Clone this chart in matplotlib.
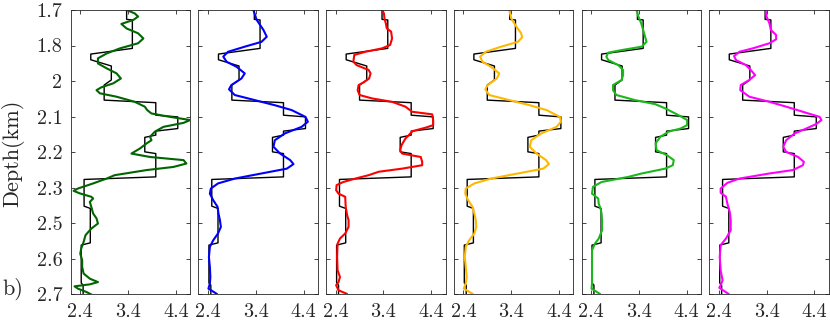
import numpy as np
import matplotlib
matplotlib.use('Agg')
import matplotlib.pyplot as plt

plt.rcParams['font.family'] = ['cmr10', 'DejaVu Serif']
plt.rcParams['mathtext.fontset'] = 'cm'
plt.rcParams['axes.unicode_minus'] = False

# true (blocky) model, shared by all panels
model_depth = [1.700, 1.733, 1.735, 1.835, 1.855, 1.875, 1.897, 1.946, 1.964, 2.017,
               2.026, 2.070, 2.076, 2.117, 2.126, 2.140, 2.148, 2.199, 2.205, 2.287,
               2.296, 2.390, 2.398, 2.519, 2.527, 2.660, 2.668, 2.700]
model_vel = [3.37, 3.37, 3.49, 3.49, 2.62, 2.62, 3.05, 3.05, 2.90, 2.90,
             3.98, 3.98, 4.44, 4.44, 3.98, 3.98, 3.75, 3.75, 3.98, 3.98,
             2.48, 2.48, 2.61, 2.61, 2.42, 2.42, 2.46, 2.46]

# panel 1 (dark green)
d1 = [1.700, 1.712, 1.723, 1.735, 1.749, 1.765, 1.782, 1.800, 1.817, 1.835, 1.853, 1.870,
      1.888, 1.905, 1.923, 1.941, 1.958, 1.972, 1.982, 1.993, 2.005, 2.023, 2.040, 2.052,
      2.064, 2.076, 2.087, 2.097, 2.111, 2.128, 2.146, 2.158, 2.169, 2.187, 2.205, 2.217,
      2.228, 2.240, 2.252, 2.263, 2.281, 2.293, 2.310, 2.328, 2.336, 2.345, 2.357, 2.363,
      2.375, 2.392, 2.416, 2.433, 2.451, 2.469, 2.492, 2.516, 2.539, 2.557, 2.580, 2.604,
      2.627, 2.645, 2.657, 2.665, 2.672, 2.680, 2.692, 2.704]
v1 = [3.37, 3.54, 3.61, 3.51, 3.26, 3.37, 3.61, 3.72, 3.61, 3.23, 2.95, 2.77,
      2.77, 2.95, 3.16, 3.25, 3.09, 2.84, 2.74, 2.81, 3.16, 3.54, 3.75, 3.80,
      3.89, 4.28, 4.70, 4.56, 4.14, 3.96, 3.86, 3.89, 3.79, 3.65, 3.47, 3.86,
      4.56, 4.62, 4.35, 3.79, 3.12, 2.95, 2.67, 2.35, 2.26, 2.39, 2.63, 2.67,
      2.60, 2.63, 2.67, 2.74, 2.77, 2.63, 2.51, 2.47, 2.42, 2.40, 2.44, 2.44,
      2.47, 2.60, 2.77, 2.60, 2.28, 2.35, 2.53, 2.67]

# panel 2 (blue)
d2 = [1.700, 1.735, 1.770, 1.794, 1.812, 1.829, 1.847, 1.864, 1.882, 1.900, 1.923, 1.941,
      1.964, 1.979, 1.999, 2.017, 2.035, 2.052, 2.076, 2.093, 2.111, 2.134, 2.158, 2.181,
      2.205, 2.228, 2.242, 2.258, 2.275, 2.293, 2.310, 2.328, 2.346, 2.369, 2.392, 2.416,
      2.439, 2.463, 2.486, 2.510, 2.533, 2.569, 2.604, 2.639, 2.662, 2.680, 2.698]
v2 = [3.35, 3.42, 3.56, 3.63, 3.52, 3.17, 2.82, 2.72, 2.79, 3.00, 3.17, 3.10,
      2.89, 2.84, 2.96, 3.38, 3.80, 4.15, 4.44, 4.49, 4.36, 4.01, 3.80, 3.77,
      3.91, 4.12, 4.19, 4.05, 3.52, 2.96, 2.61, 2.46, 2.44, 2.51, 2.60, 2.62,
      2.65, 2.67, 2.61, 2.51, 2.44, 2.42, 2.44, 2.45, 2.44, 2.41, 2.58]

# panel 3 (red)
d3 = [1.700, 1.712, 1.729, 1.747, 1.765, 1.776, 1.800, 1.823, 1.835, 1.847, 1.858, 1.882,
      1.894, 1.911, 1.923, 1.941, 1.955, 1.964, 1.982, 1.999, 2.011, 2.023, 2.040, 2.058,
      2.067, 2.087, 2.105, 2.114, 2.126, 2.140, 2.152, 2.175, 2.193, 2.205, 2.217, 2.234,
      2.246, 2.258, 2.269, 2.281, 2.293, 2.305, 2.316, 2.334, 2.346, 2.357, 2.393, 2.422,
      2.439, 2.463, 2.486, 2.504, 2.522, 2.568, 2.615, 2.639, 2.657, 2.668, 2.686, 2.698]
v3 = [3.37, 3.41, 3.42, 3.45, 3.47, 3.56, 3.58, 3.54, 3.37, 3.02, 2.79, 2.77,
      2.84, 3.09, 3.13, 3.10, 2.98, 2.88, 2.86, 2.90, 3.16, 3.58, 3.86, 4.00,
      4.42, 4.44, 4.44, 4.28, 4.01, 3.93, 3.86, 3.78, 3.75, 3.79, 4.18, 4.21,
      4.21, 3.79, 3.30, 3.09, 2.81, 2.56, 2.42, 2.41, 2.46, 2.60, 2.61, 2.64,
      2.67, 2.67, 2.60, 2.49, 2.44, 2.43, 2.44, 2.49, 2.46, 2.41, 2.46, 2.63]

# panel 4 (orange)
d4 = [1.700, 1.729, 1.759, 1.782, 1.796, 1.812, 1.829, 1.847, 1.864, 1.882, 1.900, 1.923,
      1.941, 1.964, 1.979, 1.999, 2.017, 2.035, 2.052, 2.076, 2.093, 2.111, 2.134, 2.158,
      2.181, 2.205, 2.228, 2.242, 2.258, 2.275, 2.293, 2.310, 2.328, 2.346, 2.369, 2.392,
      2.416, 2.439, 2.463, 2.486, 2.510, 2.533, 2.569, 2.604, 2.639, 2.662, 2.680, 2.698]
v4 = [3.36, 3.40, 3.51, 3.61, 3.63, 3.54, 3.19, 2.87, 2.75, 2.80, 2.98, 3.15,
      3.10, 2.91, 2.86, 2.94, 3.36, 3.79, 4.14, 4.42, 4.44, 4.35, 4.03, 3.82,
      3.79, 3.93, 4.13, 4.19, 4.07, 3.54, 2.98, 2.63, 2.45, 2.44, 2.50, 2.59,
      2.63, 2.66, 2.67, 2.63, 2.52, 2.45, 2.43, 2.45, 2.47, 2.45, 2.41, 2.59]

# panel 5 (green)
d5 = [1.700, 1.723, 1.747, 1.770, 1.794, 1.812, 1.829, 1.841, 1.850, 1.864, 1.876, 1.894,
      1.911, 1.929, 1.946, 1.964, 1.982, 1.999, 2.017, 2.031, 2.046, 2.070, 2.087, 2.105,
      2.117, 2.128, 2.146, 2.169, 2.193, 2.211, 2.228, 2.246, 2.258, 2.275, 2.287, 2.305,
      2.322, 2.346, 2.363, 2.381, 2.399, 2.416, 2.439, 2.475, 2.504, 2.522, 2.545, 2.592,
      2.627, 2.662, 2.680, 2.698]
v5 = [3.35, 3.39, 3.45, 3.49, 3.53, 3.56, 3.46, 3.04, 2.76, 2.72, 2.76, 2.97,
      3.07, 3.07, 3.04, 2.86, 2.86, 2.93, 3.32, 3.74, 3.95, 4.23, 4.41, 4.41,
      4.27, 4.02, 3.85, 3.75, 3.77, 3.99, 4.13, 4.11, 3.95, 3.46, 3.18, 2.62,
      2.44, 2.42, 2.55, 2.56, 2.60, 2.62, 2.63, 2.63, 2.56, 2.48, 2.42, 2.42,
      2.42, 2.42, 2.41, 2.58]

# panel 6 (magenta)
d6 = [1.700, 1.723, 1.747, 1.770, 1.788, 1.803, 1.817, 1.835, 1.847, 1.862, 1.876, 1.894,
      1.911, 1.929, 1.946, 1.964, 1.982, 2.005, 2.023, 2.040, 2.058, 2.076, 2.087, 2.101,
      2.117, 2.134, 2.158, 2.181, 2.199, 2.217, 2.234, 2.246, 2.263, 2.275, 2.293, 2.308,
      2.328, 2.343, 2.357, 2.381, 2.410, 2.439, 2.475, 2.504, 2.527, 2.569, 2.616, 2.651,
      2.668, 2.677, 2.698]
v6 = [3.38, 3.40, 3.46, 3.49, 3.60, 3.60, 3.46, 3.11, 2.83, 2.72, 2.76, 2.97,
      3.07, 3.16, 3.04, 2.86, 2.85, 3.04, 3.46, 3.81, 4.16, 4.51, 4.55, 4.44,
      4.23, 3.99, 3.81, 3.75, 3.81, 4.06, 4.18, 4.16, 3.95, 3.46, 2.83, 2.58,
      2.44, 2.44, 2.55, 2.58, 2.63, 2.65, 2.65, 2.55, 2.44, 2.42, 2.44, 2.48,
      2.44, 2.41, 2.60]

curves = [(d1, v1, (0.0, 0.4, 0.0)),
          (d2, v2, (0.0, 0.0, 1.0)),
          (d3, v3, (1.0, 0.0, 0.0)),
          (d4, v4, (1.0, 0.72, 0.0)),
          (d5, v5, (0.1, 0.72, 0.1)),
          (d6, v6, (1.0, 0.0, 1.0))]

ytick_labels = ['1.7', '1.8', '2', '2.1', '2.2', '2.3', '2.5', '2.6', '2.7']
xtick_labels = ['2.4', '3.4', '4.4']

W, H = 830, 323
fig = plt.figure(figsize=(W / 100, H / 100), dpi=100)

ax_w = 119.5
step = 127.7
top, bottom = 10, 294.3
fs = 14.5
for i, (d, v, col) in enumerate(curves):
    left = 70.7 + step * i
    ax = fig.add_axes([left / W, (H - bottom) / H, ax_w / W, (bottom - top) / H])
    ax.plot(model_vel, model_depth, color='k', lw=1.0)
    ax.plot(v, d, color=col, lw=1.5)
    ax.set_xlim(2.2, 4.7)
    ax.set_ylim(2.7, 1.7)
    ax.set_xticks([float(t) for t in xtick_labels])
    ax.set_xticklabels(xtick_labels, fontsize=fs)
    ax.set_yticks(np.linspace(1.7, 2.7, len(ytick_labels)))
    if i == 0:
        ax.set_yticklabels(ytick_labels, fontsize=fs)
    else:
        ax.set_yticklabels([])
    ax.tick_params(direction='in', length=3, width=0.6, top=True, right=True,
                   colors='#262626', labelcolor='#262626', pad=6)
    for s in ax.spines.values():
        s.set_linewidth(0.6)
        s.set_color('#262626')

fig.text(13 / W, (H - 153) / H, 'Depth(km)', fontsize=16, color='#262626',
         rotation=90, va='center', ha='center')
fig.text(2 / W, (H - 289) / H, 'b)', fontsize=16, color='#262626', va='center', ha='left')

fig.savefig('out.png', dpi=100)
